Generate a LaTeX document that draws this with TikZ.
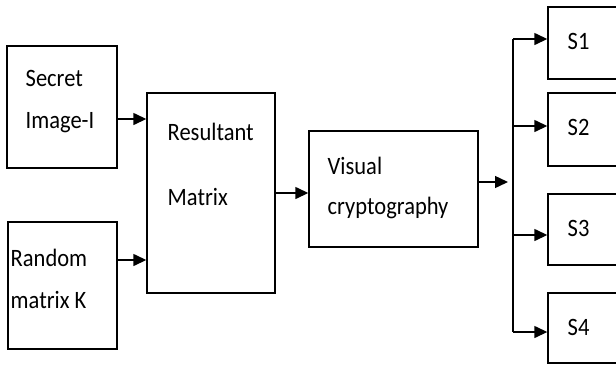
\documentclass[tikz,border=0pt]{standalone}
\usepackage{fontspec}
\setmainfont{Carlito}
\newfontfamily\boxfont{Carlito}[FakeStretch=0.9]
\usetikzlibrary{arrows.meta}

\begin{document}
\begin{tikzpicture}[x=1pt, y=-1pt, line width=1.4pt, -{Triangle[length=13pt,width=12pt]}]
  \tikzstyle{block}=[draw, rectangle, inner sep=0pt]
  \tikzstyle{txt}=[anchor=west, align=left, inner sep=0pt, font=\boxfont\fontsize{25}{42}\selectfont]

  \path[use as bounding box, clip] (0,0) rectangle (616,365);

  % boxes
  \node[block, minimum width=110, minimum height=122] (secret) at (62,107) {};
  \node[block, minimum width=109, minimum height=127] (random) at (62.5,285.5) {};
  \node[block, minimum width=128, minimum height=200] (result) at (211,193) {};
  \node[block, minimum width=169, minimum height=116] (visual) at (393.5,189) {};
  \foreach \name / \y / \h in {1/43/72, 2/129.5/73, 3/229.5/71, 4/328/70}
    \node[block, minimum width=80, minimum height=\h] (S-\name) at (588,\y) {};

  % texts
  \node[txt] (secret-t) at (25,101.5) {Secret\\Image-I};
  \node[txt] (random-t) at (10,278.5) {Random\\matrix K};
  \node[txt, font=\boxfont\fontsize{25}{65}\selectfont] (result-t) at (167,164) {Resultant\\Matrix};
  \node[txt, font=\boxfont\fontsize{25}{40}\selectfont] (visual-t) at (327,187.5) {Visual\\cryptography};
  \foreach \name / \y in {1/41,2/127,3/228,4/327}
    \node[txt] (S-\name-t) at (567,\y) {S\name};

  % connectors
  \coordinate (secret-out) at ([yshift=-12pt]secret.east);
  \coordinate (random-out) at ([yshift=25.5pt]random.east);
  \coordinate (visual-out) at ([yshift=7pt]visual.east);
  \coordinate (bus) at (513,182);

  \draw (secret-out) -- (secret-out -| result.west);
  \draw (random-out) -- (random-out -| result.west);
  \draw (result.east) -- (result.east -| visual.west);
  \draw[shorten >=5pt] (visual-out) -- (visual-out -| bus);

  \foreach \name / \dy in {1/4, 2/3.5, 3/-5.5, 4/-4}
    \coordinate (S-\name-in) at ([yshift=\dy pt]S-\name.west);

  \draw[-] (bus |- S-1-in) -- (bus |- S-4-in);
  \foreach \name in {1,...,4}
    \draw (bus |- S-\name-in) -- (S-\name-in);
\end{tikzpicture}
\end{document}
